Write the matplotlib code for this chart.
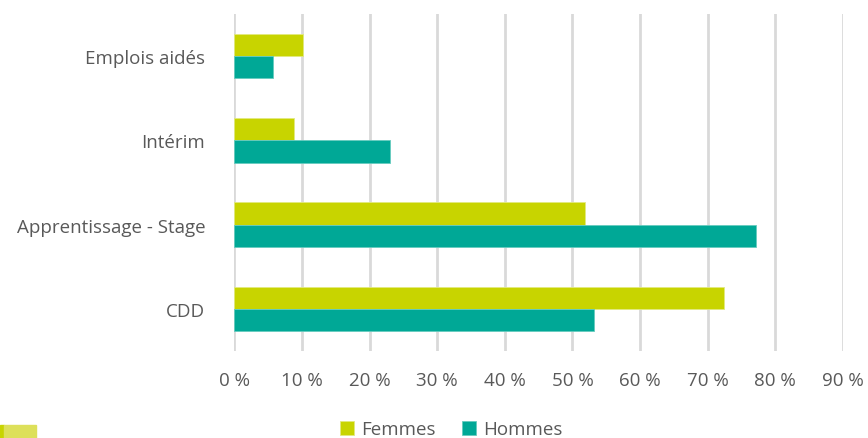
import numpy as np
import matplotlib.pyplot as plt
from matplotlib.patches import Rectangle
from matplotlib.ticker import FuncFormatter

# Données (part en %)
categories = ['CDD', 'Apprentissage - Stage', 'Intérim', 'Emplois aidés']
femmes = [72.4, 51.8, 8.8, 10.2]
hommes = [53.2, 77.1, 23.0, 5.7]

col_f = '#c8d400'
col_h = '#00a896'
gris = '#595959'

plt.rcParams['font.family'] = ['Open Sans', 'DejaVu Sans']

fig = plt.figure(figsize=(8.68, 4.39), dpi=100)
ax = fig.add_axes([0.27, 0.198, 0.701, 0.768])

y = np.arange(len(categories))
h = 0.265
ax.barh(y + h / 2, femmes, height=h, color=col_f, edgecolor='#e2ea80', linewidth=0.6, label='Femmes', zorder=3)
ax.barh(y - h / 2, hommes, height=h, color=col_h, edgecolor='#66cbbf', linewidth=0.6, label='Hommes', zorder=3)

ax.set_xlim(0, 90)
ax.set_ylim(-0.5, len(categories) - 0.5)
ax.set_xticks(np.arange(0, 91, 10))
ax.xaxis.set_major_formatter(FuncFormatter(lambda v, p: f'{int(v)}\u00a0%'))
ax.set_yticks(y)
ax.set_yticklabels(categories)
ax.grid(axis='x', color='#d9d9d9', linewidth=2, zorder=0)
ax.tick_params(axis='both', length=0, labelsize=13.5, colors=gris)
ax.tick_params(axis='y', pad=21)
ax.tick_params(axis='x', pad=14)
for s in ax.spines.values():
    s.set_visible(False)

ax.legend(loc='center', ncol=2, frameon=False, fontsize=13.5, labelcolor=gris,
          handlelength=0.75, handleheight=0.75, handletextpad=0.4, columnspacing=1.4)
leg = ax.get_legend()
leg.set_bbox_to_anchor((0.52, 0.02), transform=fig.transFigure)

# petite barre décorative en bas à gauche
fig.patches.append(Rectangle((0, 0.0), 0.005, 0.03, transform=fig.transFigure, color='#c8d400'))
fig.patches.append(Rectangle((0.005, 0.0), 0.037, 0.03, transform=fig.transFigure, color='#dde05a'))

fig.savefig('out.png', dpi=100)
